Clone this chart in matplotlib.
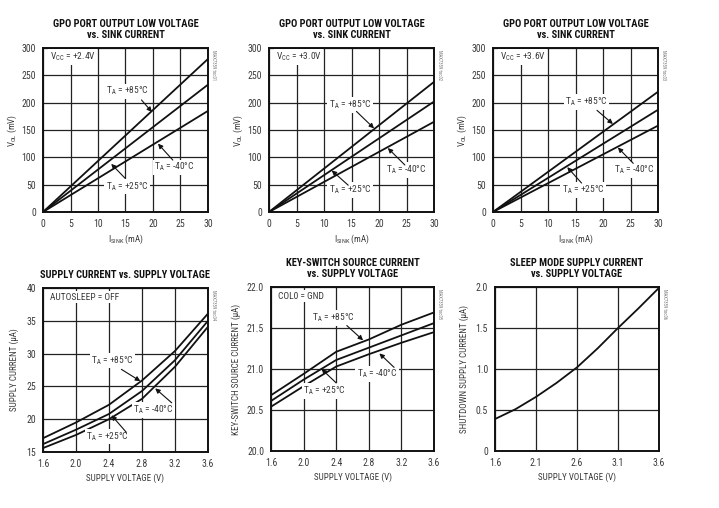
import numpy as np
import matplotlib
matplotlib.use('Agg')
import matplotlib.pyplot as plt

plt.rcParams['font.family'] = ['Liberation Sans Narrow', 'Roboto Condensed', 'DejaVu Sans']
plt.rcParams['font.stretch'] = 'condensed'
plt.rcParams['mathtext.default'] = 'regular'

TXT = '#3a3a3a'

# GPO port output low voltage vs sink current (mA -> mV)
isink = [0, 15, 30]
vol_24 = {'85': [0, 140, 280], '25': [0, 116.5, 233], '-40': [0, 92.5, 185]}
vol_30 = {'85': [0, 119, 238], '25': [0, 101, 202], '-40': [0, 82.5, 165]}
vol_36 = {'85': [0, 110, 220], '25': [0, 93.5, 187], '-40': [0, 79, 158]}

# supply current vs supply voltage
vsup = [1.6, 2.0, 2.4, 2.8, 3.2, 3.6]
icc_85 = [17.1, 19.5, 22.2, 25.9, 30.4, 36.1]
icc_25 = [16.2, 18.4, 20.8, 24.3, 29.0, 35.0]
icc_m40 = [15.6, 17.6, 20.0, 23.1, 28.0, 34.1]

# key-switch source current vs supply voltage
iks_85 = [20.68, 20.94, 21.21, 21.36, 21.54, 21.69]
iks_25 = [20.61, 20.87, 21.11, 21.26, 21.41, 21.56]
iks_m40 = [20.54, 20.79, 21.03, 21.18, 21.32, 21.45]

# sleep mode supply current
vsl = [1.6, 1.85, 2.1, 2.35, 2.6, 2.85, 3.1, 3.35, 3.6]
isl = [0.39, 0.51, 0.66, 0.83, 1.02, 1.25, 1.50, 1.74, 1.99]

W, H = 719, 508
fig = plt.figure(figsize=(W / 100, H / 100), dpi=100)


def make_ax(l, t, w, h):
    return fig.add_axes([l / W, 1 - (t + h) / H, w / W, h / H])


def style(ax, title, xlabel, ylabel, tag, ypad=6):
    ax.set_title(title, fontsize=7.5, fontweight='bold', color='#111111',
                 pad=7, linespacing=1.2)
    ax.set_xlabel(xlabel, fontsize=6.5, color=TXT, labelpad=3)
    ax.set_ylabel(ylabel, fontsize=6.5, color=TXT, labelpad=ypad)
    ax.tick_params(length=0, labelsize=7, labelcolor=TXT, pad=5)
    ax.grid(True, color='#222222', lw=0.9)
    ax.set_axisbelow(True)
    for s in ax.spines.values():
        s.set_linewidth(1.4)
        s.set_color('#111111')
    ax.text(1.02, 0.99, tag, transform=ax.transAxes, rotation=270,
            fontsize=3.4, color='#777777', va='top', ha='left')


def label(ax, txt, pos, start, head):
    ax.text(pos[0], pos[1], txt, fontsize=6.8, color=TXT, ha='center',
            va='center', zorder=5,
            bbox=dict(boxstyle='square,pad=0.15', fc='white', ec='none'))
    ax.annotate('', xy=head, xytext=start, zorder=6,
                arrowprops=dict(arrowstyle='-|>', color='#111111', lw=0.8,
                                mutation_scale=7, shrinkA=0, shrinkB=0))


def box(ax, txt):
    ax.text(0.04, 0.945, txt, transform=ax.transAxes, fontsize=6.8,
            color=TXT, ha='left', va='center', zorder=5,
            bbox=dict(boxstyle='square,pad=0.15', fc='white', ec='none'))


gpo_title = 'GPO PORT OUTPUT LOW VOLTAGE\nvs. SINK CURRENT'
gpo_sets = [(43, vol_24, '+2.4V', 'MAX7359 toc01',
             [(15.3, 221), (17.9, 205), (19.8, 183)],
             [(23.9, 82), (23.6, 95), (20.9, 125)],
             [(15.3, 47), (14.9, 62), (12.4, 88)]),
            (269, vol_30, '+3.0V', 'MAX7359 toc02',
             [(14.7, 196), (15.9, 184), (19.1, 153)],
             [(24.9, 77), (24.7, 86), (21.6, 117)],
             [(14.7, 40), (14.4, 49), (11.4, 76)]),
            (493, vol_36, '+3.6V', 'MAX7359 toc03',
             [(17.0, 201), (18.9, 186), (21.8, 161)],
             [(25.7, 77), (25.5, 89), (22.7, 118)],
             [(16.4, 40), (16.1, 53), (13.5, 82)])]

for left, vals, vcc, tag, a85, a40, a25 in gpo_sets:
    ax = make_ax(left, 48, 165, 164)
    for k in ['85', '25', '-40']:
        ax.plot(isink, vals[k], color='#111111', lw=1.3)
    ax.set_xlim(0, 30)
    ax.set_ylim(0, 300)
    ax.set_xticks(range(0, 31, 5))
    ax.set_yticks(range(0, 301, 50))
    style(ax, gpo_title, '$I_{SINK}$ (mA)', '$V_{OL}$ (mV)', tag, ypad=2)
    box(ax, '$V_{CC}$ = ' + vcc)
    label(ax, '$T_A$ = +85°C', *a85)
    label(ax, '$T_A$ = -40°C', *a40)
    label(ax, '$T_A$ = +25°C', *a25)

# supply current
ax = make_ax(43, 288, 165, 164)
for y in [icc_85, icc_25, icc_m40]:
    ax.plot(vsup, y, color='#111111', lw=1.3)
ax.set_xlim(1.6, 3.6)
ax.set_ylim(15, 40)
ax.set_xticks(vsup)
ax.set_yticks(range(15, 41, 5))
style(ax, 'SUPPLY CURRENT vs. SUPPLY VOLTAGE', 'SUPPLY VOLTAGE (V)',
      'SUPPLY CURRENT (µA)', 'MAX7359 toc04', ypad=5)
box(ax, 'AUTOSLEEP = OFF')
label(ax, '$T_A$ = +85°C', (2.44, 28.9), (2.55, 27.6), (2.78, 25.8))
label(ax, '$T_A$ = -40°C', (2.94, 21.4), (3.16, 22.5), (2.96, 24.7))
label(ax, '$T_A$ = +25°C', (2.38, 17.4), (2.61, 18.0), (2.43, 20.6))

# key-switch source current
ax = make_ax(271, 287, 163, 164)
for y in [iks_85, iks_25, iks_m40]:
    ax.plot(vsup, y, color='#111111', lw=1.3)
ax.set_xlim(1.6, 3.6)
ax.set_ylim(20, 22)
ax.set_xticks(vsup)
ax.set_yticks(np.arange(20, 22.01, 0.5))
ax.set_yticklabels(['20.0', '20.5', '21.0', '21.5', '22.0'])
style(ax, 'KEY-SWITCH SOURCE CURRENT\nvs. SUPPLY VOLTAGE', 'SUPPLY VOLTAGE (V)',
      'KEY-SWITCH SOURCE CURRENT (µA)', 'MAX7359 toc05', ypad=4)
box(ax, 'COL0 = GND')
label(ax, '$T_A$ = +85°C', (2.37, 21.62), (2.53, 21.53), (2.73, 21.35))
label(ax, '$T_A$ = -40°C', (2.90, 20.94), (3.11, 21.02), (2.93, 21.19))
label(ax, '$T_A$ = +25°C', (2.26, 20.73), (2.40, 20.83), (2.22, 21.0))

# sleep mode supply current
ax = make_ax(495, 287, 164, 164)
ax.plot(vsl, isl, color='#111111', lw=1.3)
ax.set_xlim(1.6, 3.6)
ax.set_ylim(0, 2.0)
ax.set_xticks([1.6, 2.1, 2.6, 3.1, 3.6])
ax.set_yticks([0, 0.5, 1.0, 1.5, 2.0])
ax.set_yticklabels(['0', '0.5', '1.0', '1.5', '2.0'])
style(ax, 'SLEEP MODE SUPPLY CURRENT\nvs. SUPPLY VOLTAGE', 'SUPPLY VOLTAGE (V)',
      'SHUTDOWN SUPPLY CURRENT (µA)', 'MAX7359 toc06', ypad=5)

fig.savefig('out.png', dpi=100)
